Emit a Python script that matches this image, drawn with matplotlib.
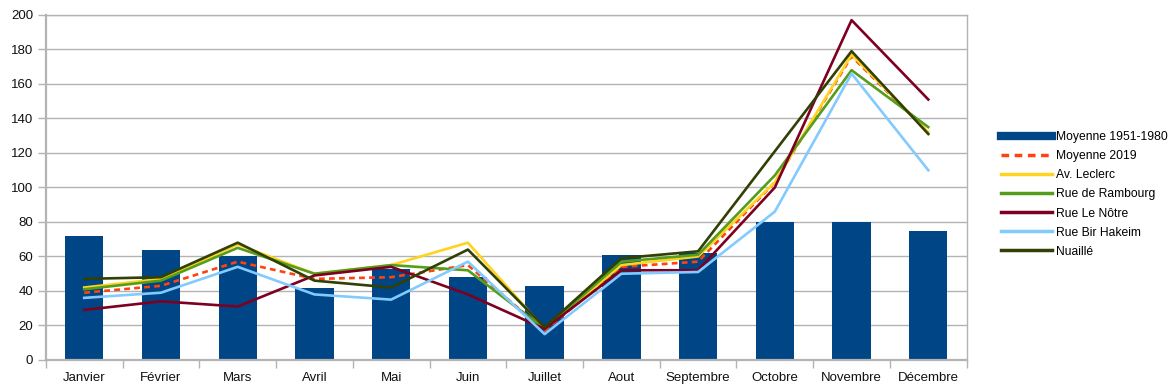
import matplotlib.pyplot as plt
from matplotlib.lines import Line2D
import numpy as np

plt.rcParams['font.family'] = ['Liberation Sans', 'DejaVu Sans']

mois = ['Janvier', 'Février', 'Mars', 'Avril', 'Mai', 'Juin', 'Juillet',
        'Aout', 'Septembre', 'Octobre', 'Novembre', 'Décembre']

moyenne_1951_1980 = [72, 64, 60, 42, 53, 48, 43, 61, 62, 80, 80, 75]
moyenne_2019 = [39, 43, 57, 47, 48, 55, 17, 54, 57, 103, 176, 132]
av_leclerc = [42, 47, 67, 50, 55, 68, 18, 55, 60, 103, 177, 132]
rue_rambourg = [41, 46, 65, 50, 55, 52, 18, 57, 61, 107, 168, 135]
rue_le_notre = [29, 34, 31, 49, 54, 38, 18, 52, 52, 100, 197, 151]
rue_bir_hakeim = [36, 39, 54, 38, 35, 57, 15, 50, 51, 86, 166, 110]
nuaille = [47, 48, 68, 46, 42, 64, 19, 59, 63, 121, 179, 131]

series = [
    ('Moyenne 2019', moyenne_2019, '#ff420e', (0, (2.2, 1.6))),
    ('Av. Leclerc', av_leclerc, '#ffd320', '-'),
    ('Rue de Rambourg', rue_rambourg, '#579d1c', '-'),
    ('Rue Le Nôtre', rue_le_notre, '#7e0021', '-'),
    ('Rue Bir Hakeim', rue_bir_hakeim, '#83caff', '-'),
    ('Nuaillé', nuaille, '#314004', '-'),
]

grid_col = '#b3b3b3'

fig = plt.figure(figsize=(11.76, 3.89), dpi=100)
ax = fig.add_axes([0.039, 0.0746, 0.783, 0.8869])

x = np.arange(len(mois))
ax.bar(x, moyenne_1951_1980, width=0.5, color='#004586', zorder=2)

for label, vals, col, ls in series:
    ax.plot(x, vals, color=col, lw=1.9, ls=ls, zorder=3)

ax.set_xlim(-0.5, len(mois) - 0.5)
ax.set_ylim(0, 200)
ax.set_yticks(range(0, 201, 20))
ax.yaxis.grid(True, color=grid_col, lw=1, zorder=0)
ax.set_axisbelow(True)

ax.set_xticks(x)
ax.set_xticklabels(mois)
ax.set_xticks(np.arange(-0.5, len(mois), 1), minor=True)
ax.tick_params(axis='x', which='major', length=0, pad=9)
ax.tick_params(axis='x', which='minor', length=6, color=grid_col, width=1)
ax.tick_params(axis='y', length=6, color=grid_col, width=1, pad=3)
ax.tick_params(labelsize=9.5, labelcolor='#111111')

for s in ax.spines.values():
    s.set_color(grid_col)
    s.set_linewidth(1)
ax.spines['left'].set_linewidth(1.6)
ax.spines['bottom'].set_linewidth(1.6)

# legend: bar series shown as a thick line, like the original
handles = [Line2D([], [], color='#004586', lw=6)]
labels = ['Moyenne 1951-1980']
for label, vals, col, ls in series:
    handles.append(Line2D([], [], color=col, lw=2.5, ls=ls))
    labels.append(label)

fig.legend(handles, labels, loc='center left', bbox_to_anchor=(0.846, 0.5),
           frameon=False, fontsize=8.7, handlelength=4.2, handletextpad=0.35,
           labelspacing=0.58, borderpad=0)

fig.savefig('out.png', dpi=100)
